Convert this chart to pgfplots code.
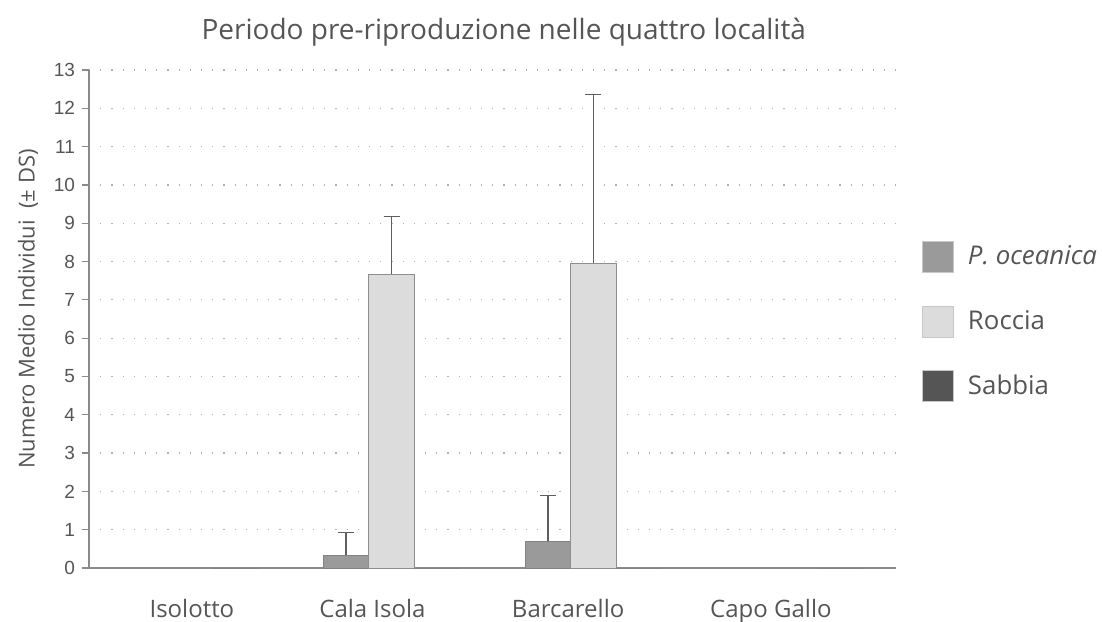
\documentclass[border=0pt]{standalone}
\usepackage{pgfplots}
\pgfplotsset{compat=1.18}
\usepackage{pgfplotstable}
\usepackage{fontspec}
\setmainfont{Open Sans}
\newfontfamily\arialfont{Liberation Sans}

\definecolor{txt}{HTML}{555555}
\definecolor{poc}{HTML}{9A9A9A}
\definecolor{poced}{HTML}{828282}
\definecolor{roc}{HTML}{DCDCDC}
\definecolor{roced}{HTML}{8E8E8E}
\definecolor{sab}{HTML}{555555}
\definecolor{axisgray}{HTML}{8A8A8A}
\definecolor{gridgray}{HTML}{B0B0B0}
\definecolor{errgray}{HTML}{5E5E5E}
\definecolor{legedge}{HTML}{C8C8C8}

% mean number of individuals and standard deviation per site
% x: 0 Isolotto, 1 Cala Isola, 2 Barcarello, 3 Capo Gallo
\pgfplotstableread{
x y e
1 0.33 0.60
2 0.70 1.20
}\poceanica
\pgfplotstableread{
x y e
1 7.67 1.50
2 7.96 4.40
}\roccia
\pgfplotstableread{
x y
0 0
1 0
2 0
3 0
}\sabbia

\pgfplotsset{
  sqleg/.style={legend image code/.code={
      \draw[##1, draw=legedge, line width=0.5pt] (0pt,-7.75pt) rectangle (15.5pt,7.75pt);}},
  errstyle/.style={error bars/.cd, y dir=plus, y explicit,
      error bar style={draw=errgray, line width=0.7pt},
      error mark options={draw=errgray, line width=0.7pt, mark size=4pt, rotate=90}},
}

\begin{document}
\begin{tikzpicture}
\begin{axis}[
  scale only axis, width=403.5pt, height=249pt,
  xmin=-0.5, xmax=3.5, ymin=0, ymax=13,
  ybar=0pt, bar width=22.75pt,
  axis x line=bottom, axis y line=left,
  axis line style={-, draw=axisgray, line width=0.75pt},
  xtick={0.01,0.905,1.875,2.88},
  xticklabels={Isolotto, Cala Isola, Barcarello, Capo Gallo},
  xtick style={draw=none},
  xticklabel style={font=\fontsize{12}{14}\selectfont, text=txt, anchor=base, yshift=-21pt},
  ytick={0,...,13},
  ytick style={draw=axisgray, line width=0.6pt},
  tick align=outside, major tick length=3.5pt,
  yticklabel style={font=\arialfont\fontsize{9.5}{11}\selectfont, text=txt},
  /pgf/number format/assume math mode=true,
  ymajorgrids,
  grid style={draw=gridgray, line width=0.6pt, dash pattern=on 0.6pt off 5pt},
  title={Periodo pre-riproduzione nelle quattro località},
  title style={at={(axis description cs:0.514,1.038)}, anchor=base, yshift=0pt,
               font=\fontsize{14}{16}\selectfont, text=txt},
  ylabel={Numero Medio Individui\ \ (± DS)},
  ylabel style={at={(axis description cs:-0.0756,0.52)}, anchor=center,
                font=\fontsize{11}{13}\selectfont, text=txt},
  legend style={at={(axis description cs:1.0322,0.6566)}, anchor=north west,
                draw=none, fill=none, inner sep=0pt, outer sep=0pt,
                row sep=16.3pt, column sep=7pt,
                nodes={inner sep=0pt, text=txt, font=\fontsize{12.9}{15}\selectfont}},
  legend cell align=left,
]
\addplot[fill=poc, draw=poced, line width=0.5pt, sqleg, errstyle]
  table[x=x, y=y, y error=e] {\poceanica};
\addlegendentry{\textit{P. oceanica}}
\addplot[fill=roc, draw=roced, line width=0.5pt, sqleg, errstyle]
  table[x=x, y=y, y error=e] {\roccia};
\addlegendentry{Roccia}
\addplot[fill=sab, draw=none, sqleg]
  table[x=x, y=y] {\sabbia};
\addlegendentry{Sabbia}
\end{axis}
\pgfresetboundingbox
\path[use as bounding box]
  ([xshift=-44.5pt,yshift=-26.5pt]current axis.south west)
  rectangle ([xshift=506.5pt,yshift=284pt]current axis.south west);
\end{tikzpicture}
\end{document}
